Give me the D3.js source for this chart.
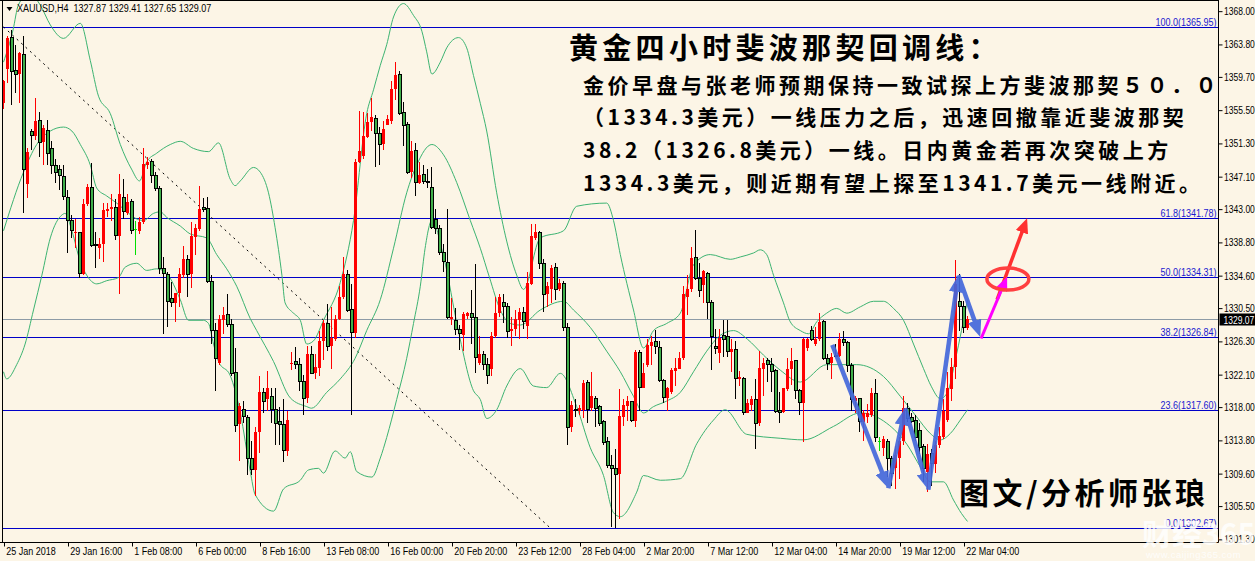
<!DOCTYPE html>
<html><head><meta charset="utf-8">
<script src="https://cdn.jsdelivr.net/npm/d3@7"></script>
<style>
html,body{margin:0;padding:0;background:#fcf5e6;}
svg{display:block;}
</style></head><body>
<svg id="c" width="1255" height="561"></svg>
<script>
// ---------- DATA ----------
const symbolText = "XAUUSD,H4";
const lastBar = [1327.87, 1329.41, 1327.65, 1329.07];
const open = [1356.3,1360.6,1364.6,1360.4,1360.0,1362.5,1346.1,1352.7,1352.2,1354.1,1351.4,1352.9,1350.6,1348.5,1348.0,1347.1,1344.4,1341.5,1339.9,1340.0,
1334.8,1343.6,1345.7,1338.5,1338.0,1338.5,1342.7,1343.0,1343.2,1339.6,1344.4,1342.5,1343.9,1340.35,1340.2,1341.3,1348.5,1348.9,1347.2,1345.6,
1335.5,1334.7,1331.7,1331.1,1332.3,1334.6,1336.6,1334.7,1339.4,1340.4,1343.2,1343.0,1333.8,1327.6,1323.5,1328.9,1329.6,1328.4,1322.3,1315.8,
1317.6,1316.6,1311.5,1310.0,1314.8,1319.8,1318.9,1319.3,1317.6,1316.1,1315.8,1312.4,1323.4,1323.7,1323.3,1321.2,1319.1,1324.6,1322.2,1322.9,
1326.3,1328.5,1325.6,1326.5,1329.0,1331.9,1334.7,1330.3,1327.3,1348.9,1349.6,1352.0,1354.0,1354.4,1352.5,1351.1,1353.6,1354.1,1358.1,1359.9,
1355.2,1353.6,1347.6,1350.3,1346.3,1347.3,1346.4,1345.7,1341.6,1340.5,1337.4,1336.2,1329.1,1328.9,1327.8,1327.0,1329.4,1329.8,1329.3,1323.5,
1324.6,1323.3,1322.7,1326.9,1329.8,1331.1,1330.7,1327.5,1327.8,1328.9,1329.9,1328.2,1333.5,1339.3,1340.0,1336.1,1332.2,1332.8,1335.6,1332.8,
1333.6,1328.0,1315.4,1317.6,1317.5,1317.6,1321.0,1317.8,1319.0,1318.0,1316.1,1313.6,1310.6,1310.2,1309.5,1316.7,1318.1,1318.6,1316.2,1324.8,
1320.4,1323.3,1325.6,1326.2,1325.5,1321.3,1319.1,1319.8,1322.5,1322.8,1324.1,1331.9,1332.8,1336.8,1334.2,1333.4,1334.8,1331.2,1325.6,1324.8,
1327.0,1326.9,1324.9,1325.2,1321.5,1321.5,1317.2,1318.2,1318.9,1315.9,1322.8,1323.8,1323.3,1322.5,1317.5,1317.3,1320.2,1322.7,1323.8,1320.0,
1318.5,1325.4,1327.6,1325.9,1326.5,1328.7,1324.1,1323.5,1324.5,1324.4,1326.5,1326.1,1323.2,1318.7,1319.0,1316.1,1316.7,1316.9,1319.7,1313.6,
1312.8,1313.6,1311.5,1310.3,1311.5,1313.6,1317.8,1316.6,1316.2,1315.0,1313.0,1309.8,1312.1,1310.8,1313.2,1314.1,1316.3,1320.2,1323.0,1331.3,
1330.7,1327.87];
const high = [1359.3,1364.8,1365.6,1363.7,1362.8,1364.8,1350.6,1353.0,1356.95,1355.2,1353.6,1354.2,1351.5,1349.3,1348.5,1348.5,1345.4,1342.2,1341.7,1340.0,
1344.2,1346.1,1348.8,1340.1,1339.3,1343.7,1343.7,1344.8,1344.2,1347.4,1346.8,1344.8,1344.2,1341.5,1341.9,1350.6,1349.5,1349.3,1347.6,1345.9,
1336.9,1335.0,1333.7,1332.4,1335.5,1338.3,1337.2,1341.3,1341.1,1345.9,1344.3,1344.5,1334.6,1328.5,1329.6,1330.6,1332.2,1329.1,1325.4,1318.5,
1318.7,1316.9,1313.6,1315.4,1321.9,1320.3,1322.5,1320.3,1320.4,1317.9,1318.9,1317.4,1324.9,1325.5,1324.1,1322.0,1325.6,1325.6,1324.6,1327.6,
1328.9,1330.9,1330.6,1329.6,1333.2,1336.9,1335.2,1333.5,1349.3,1355.3,1355.2,1355.1,1356.95,1354.8,1353.3,1354.1,1354.8,1359.1,1361.5,1360.4,
1356.5,1353.9,1351.5,1351.3,1348.9,1348.5,1348.0,1348.2,1342.9,1340.9,1338.5,1343.0,1331.7,1330.4,1328.3,1330.0,1330.0,1332.7,1336.0,1326.9,
1325.0,1324.1,1327.4,1331.9,1332.2,1332.2,1331.1,1329.3,1330.2,1330.5,1330.6,1335.0,1341.0,1341.0,1340.2,1336.7,1333.7,1335.9,1336.1,1334.1,
1333.9,1328.5,1318.7,1318.9,1318.2,1321.3,1321.3,1322.4,1319.3,1318.2,1316.3,1314.1,1311.9,1312.6,1320.2,1318.9,1319.3,1318.7,1325.2,1325.2,
1323.5,1326.5,1326.9,1327.7,1326.3,1321.5,1320.5,1322.9,1324.1,1324.9,1333.2,1334.6,1338.2,1340.3,1336.1,1335.2,1335.0,1331.5,1327.8,1327.8,
1328.9,1328.9,1326.5,1326.3,1322.5,1321.7,1318.9,1319.3,1321.5,1325.0,1324.1,1324.1,1324.1,1322.8,1319.8,1320.4,1324.1,1325.4,1323.9,1320.2,
1326.7,1326.7,1328.2,1328.0,1329.8,1328.9,1324.6,1324.8,1325.9,1327.3,1327.6,1326.3,1323.5,1319.3,1319.1,1317.6,1318.3,1320.4,1321.5,1314.1,
1314.3,1313.9,1311.7,1313.0,1314.1,1319.3,1318.5,1317.2,1316.9,1315.9,1313.3,1313.3,1312.6,1313.7,1315.4,1318.9,1322.4,1324.1,1336.5,1334.8,
1331.3,1329.41];
const low = [1355.6,1358.9,1356.1,1357.6,1356.3,1342.4,1344.3,1350.4,1351.7,1349.5,1348.5,1348.5,1347.4,1346.3,1345.4,1344.1,1337.4,1339.3,1338.0,1334.3,
1334.6,1343.3,1338.2,1335.5,1336.7,1336.3,1342.0,1341.5,1339.1,1332.2,1341.7,1342.2,1339.8,1337.2,1339.8,1341.1,1348.0,1346.3,1345.2,1334.8,
1327.2,1328.0,1330.6,1328.7,1330.6,1334.3,1331.9,1333.0,1337.2,1340.2,1342.6,1333.6,1325.9,1320.0,1323.2,1327.2,1328.1,1321.9,1314.8,1311.1,
1315.9,1309.4,1309.4,1306.7,1312.2,1317.2,1317.4,1315.9,1313.2,1313.2,1311.0,1311.7,1322.6,1322.8,1320.0,1316.9,1318.5,1322.1,1321.5,1321.9,
1323.9,1325.0,1322.8,1326.3,1328.9,1331.6,1330.0,1316.9,1326.7,1348.7,1349.3,1351.9,1352.8,1348.2,1348.5,1350.4,1353.5,1353.7,1356.7,1354.8,
1350.9,1347.4,1346.9,1344.6,1346.1,1346.1,1345.6,1340.4,1339.8,1337.2,1335.0,1329.1,1328.3,1327.0,1325.2,1325.0,1329.1,1325.9,1322.2,1323.2,
1322.6,1320.9,1321.9,1326.7,1329.3,1328.5,1326.7,1325.6,1326.9,1326.5,1327.8,1326.5,1333.3,1339.1,1335.4,1330.0,1330.6,1331.1,1331.5,1332.6,
1327.6,1313.2,1314.8,1316.7,1316.9,1316.5,1315.9,1317.4,1315.4,1315.6,1313.2,1310.2,1302.8,1302.7,1303.8,1315.5,1316.2,1316.1,1315.4,1317.4,
1320.4,1323.0,1323.2,1324.6,1321.1,1318.5,1317.4,1319.6,1320.6,1322.7,1323.9,1329.6,1332.5,1334.0,1331.9,1331.1,1329.1,1322.6,1324.6,1323.5,
1324.3,1324.3,1322.4,1318.9,1320.6,1316.9,1317.2,1317.4,1312.6,1315.6,1319.3,1321.1,1319.8,1317.2,1315.9,1317.2,1320.0,1320.7,1318.9,1316.9,
1313.5,1325.0,1326.3,1325.6,1326.3,1323.9,1322.6,1321.5,1324.3,1324.3,1325.6,1322.4,1317.4,1317.2,1314.8,1313.7,1315.9,1316.7,1313.5,1312.4,
1311.7,1309.1,1308.0,1307.6,1308.9,1313.2,1316.1,1315.9,1313.7,1312.0,1308.5,1307.2,1308.0,1309.6,1312.8,1313.9,1316.1,1318.7,1321.5,1327.6,
1327.3,1327.65];
const close = [1359.1,1364.6,1360.3,1360.0,1362.6,1348.0,1350.2,1352.2,1354.1,1351.4,1353.2,1349.9,1348.5,1347.6,1347.2,1344.5,1341.5,1340.2,1340.1,1334.8,
1343.6,1345.7,1338.4,1338.4,1338.5,1342.8,1343.0,1343.2,1339.6,1344.9,1342.6,1343.9,1340.3,1340.35,1341.3,1348.6,1348.9,1347.2,1345.6,1335.4,
1334.8,1331.3,1331.1,1332.3,1334.7,1336.6,1334.7,1339.5,1340.6,1343.0,1342.9,1333.8,1327.6,1324.1,1329.1,1329.6,1328.4,1322.2,1315.6,1318.1,
1316.7,1311.5,1310.0,1314.8,1319.8,1318.7,1320.4,1317.6,1315.9,1315.8,1312.4,1316.3,1323.5,1323.3,1321.2,1319.0,1324.6,1322.2,1323.0,1326.3,
1328.5,1325.6,1326.7,1329.1,1331.9,1334.7,1330.1,1327.4,1348.9,1350.3,1352.2,1354.0,1354.6,1352.5,1351.1,1353.0,1354.3,1358.1,1359.9,1355.0,
1353.5,1347.6,1350.3,1346.3,1347.2,1346.4,1346.3,1340.6,1340.5,1337.4,1336.3,1329.3,1329.3,1327.8,1327.2,1329.7,1329.8,1329.3,1324.2,1324.6,
1323.3,1321.9,1326.9,1329.8,1331.9,1330.6,1327.5,1327.8,1329.1,1329.9,1328.7,1333.6,1339.6,1340.0,1336.1,1332.2,1333.2,1335.5,1332.8,1333.6,
1328.0,1315.4,1318.2,1317.5,1317.8,1321.0,1317.6,1319.4,1317.7,1315.9,1313.5,1310.6,1310.2,1309.4,1316.8,1318.2,1318.7,1316.3,1324.9,1320.4,
1322.3,1325.8,1326.2,1325.6,1321.3,1319.1,1320.3,1322.6,1322.9,1324.1,1332.2,1332.9,1336.8,1334.2,1332.6,1335.1,1331.2,1326.8,1325.4,1326.7,
1326.5,1325.0,1325.3,1321.5,1321.7,1317.2,1318.4,1318.9,1315.9,1322.9,1323.5,1323.3,1322.4,1317.4,1317.2,1320.3,1322.8,1323.8,1320.0,1318.5,
1326.5,1326.5,1326.5,1326.5,1328.7,1324.1,1323.5,1324.3,1324.3,1326.5,1326.1,1323.2,1318.9,1319.1,1316.1,1317.2,1317.2,1319.7,1314.1,1313.6,
1313.9,1311.5,1309.6,1311.9,1313.7,1317.8,1316.5,1316.1,1314.1,1312.8,1310.2,1312.0,1310.8,1313.2,1314.3,1317.4,1320.4,1323.0,1333.5,1330.6,
1328.0,1329.07];

// Bollinger bands: [bar index, price]
const bbUpper = [[0,1361.5],[2.4,1365.6],[3.7,1368.7],[6.5,1370.2],[9.2,1368.7],[11.7,1366.2],[15,1364.5],[19.2,1366.4],[21.7,1361.7],[23.75,1357.2],[26.7,1355.0],[29.2,1351.1],[32,1348.0],[34,1346.5],[35.8,1348.9],[38.3,1350.0],[41.7,1351.1],[44.2,1351.5],[47.5,1350.6],[51.25,1350.2],[53.75,1351.3],[56.7,1346.7],[57.9,1345.9],[59.2,1346.5],[62.5,1348.2],[64.2,1347.6],[66.25,1345.0],[67.9,1340.6],[69.6,1334.6],[70.4,1331.1],[72.5,1329.8],[74.2,1328.9],[75.8,1325.9],[77.5,1326.3],[80,1328.9],[84.2,1333.7],[87.5,1341.5],[90.8,1355.0],[92.5,1358.0],[94.2,1361.1],[95.8,1363.7],[97.5,1367.2],[100,1368.9],[102.5,1367.4],[104.6,1365.4],[105.8,1362.8],[107.1,1360.0],[109.2,1361.5],[110.8,1363.3],[113.75,1364.6],[115.8,1363.3],[117.5,1359.8],[119.2,1356.3],[120.8,1352.8],[123.3,1345.0],[125.8,1338.9],[128.3,1334.6],[130,1332.8],[134.2,1339.3],[140,1340.2],[143.3,1343.3],[150.8,1343.7],[152.5,1341.5],[154.2,1337.2],[157.5,1330.2],[160,1325.4],[162.5,1327.6],[165.8,1328.5],[169.2,1329.8],[172.5,1335.9],[176.7,1337.2],[181.7,1336.6],[184.2,1336.9],[187.5,1337.4],[189.2,1337.8],[190.8,1337.2],[192.5,1334.6],[195,1331.1],[196.7,1328.7],[199.2,1327.6],[201.25,1327.2],[203.3,1328.7],[205.8,1329.8],[208.3,1330.4],[210.8,1329.8],[214.2,1330.6],[217.5,1331.3],[220,1331.3],[222.5,1330.4],[225,1328.9],[227.5,1325.9],[230,1322.8],[232,1320.5],[234.2,1319.0],[236,1319.8],[238,1324.0],[241,1331.5]];
const bbMiddle = [[0,1340.2],[5,1347.6],[8.3,1351.1],[11.7,1352.8],[15,1353.3],[17.1,1352.8],[19.2,1351.1],[21.7,1348.5],[23.3,1345.6],[25.8,1344.6],[28.3,1343.7],[30.4,1342.8],[33.3,1341.7],[35,1341.5],[37.5,1342.4],[39.2,1342.6],[40.8,1341.9],[44.2,1340.8],[46.7,1339.8],[50.8,1339.3],[53.3,1337.2],[55.8,1335.4],[58.3,1333.2],[61.7,1329.1],[63.3,1327.6],[67.5,1323.7],[71.7,1319.1],[75.8,1318.0],[77,1317.8],[80.8,1319.8],[84.2,1321.5],[87.9,1324.1],[90.8,1327.6],[94.2,1331.5],[97.5,1338.0],[100.8,1345.0],[103.3,1348.5],[107.1,1351.1],[110,1349.8],[113.3,1346.3],[116.7,1341.5],[119.2,1338.0],[121.5,1334.3],[124.2,1330.2],[126.7,1328.5],[129.2,1328.3],[134.2,1330.2],[140,1331.3],[142.5,1330.2],[146.7,1328.0],[150.8,1325.0],[154.2,1322.4],[157.5,1319.3],[160,1317.2],[162.5,1318.0],[165.8,1318.7],[169.2,1319.8],[172.5,1322.4],[175.8,1325.0],[179.2,1327.0],[182.5,1327.6],[186,1326.5],[190,1324.5],[194.2,1322.6],[199.2,1321.1],[205.8,1323.3],[213.3,1323.3],[220,1321.8],[224.2,1319.3],[228.3,1316.7],[231.7,1314.6],[234.2,1313.8],[236.7,1314.6],[239.2,1316.3],[241,1317.6]];
const bbLower = [[0,1322.4],[0.8,1321.5],[3.3,1323.3],[5.4,1325.9],[7.5,1330.2],[9.6,1334.6],[11.7,1339.3],[14.6,1342.2],[15.4,1342.4],[17.1,1340.2],[19.2,1336.3],[20.8,1334.6],[23.3,1333.5],[25.8,1333.9],[28.75,1334.3],[30.4,1335.6],[33.3,1336.1],[35.8,1335.2],[38.3,1335.4],[40.8,1334.8],[44.2,1331.5],[46.25,1328.9],[50,1328.9],[51.25,1328.5],[52.5,1325.9],[53.75,1323.7],[56.7,1321.9],[59.2,1317.2],[61.7,1309.8],[62.9,1306.9],[67.5,1304.8],[70,1307.6],[74.2,1308.7],[76.25,1310.0],[78.75,1310.2],[80,1309.6],[82.9,1312.4],[85.4,1311.5],[86.7,1312.3],[88.3,1309.8],[92.1,1309.1],[94.2,1311.5],[95.8,1314.1],[98.3,1318.9],[100.8,1324.1],[102.5,1328.5],[104.2,1333.2],[105.4,1338.0],[107.1,1341.5],[110,1337.0],[113.75,1327.5],[117.5,1320.0],[119.2,1318.9],[120.8,1316.5],[123.3,1317.6],[125.8,1320.6],[129.2,1322.8],[132.5,1320.6],[135.8,1320.4],[139.2,1322.2],[143.3,1318.0],[146.7,1312.8],[150,1309.3],[152.5,1304.6],[154.2,1304.1],[158.3,1307.2],[160,1309.3],[164.2,1308.7],[169.2,1308.9],[173.3,1313.3],[177.5,1316.3],[180.4,1317.6],[185.8,1314.5],[194.2,1314.0],[200,1313.8],[207.5,1315.5],[214.2,1317.2],[220.8,1315.9],[225.9,1313.2],[229.2,1310.4],[231.7,1308.5],[235,1308.5],[237.5,1306.2],[239.5,1304.5],[241,1303.5]];

const timeLabels = ["25 Jan 2018","29 Jan 16:00","1 Feb 08:00","6 Feb 00:00","8 Feb 16:00","13 Feb 08:00","16 Feb 00:00","20 Feb 20:00","23 Feb 12:00","28 Feb 04:00","2 Mar 20:00","7 Mar 12:00","12 Mar 04:00","14 Mar 20:00","19 Mar 12:00","22 Mar 04:00"];
const timeLabelBars = [0,16,32,48,64,80,96,112,128,144,160,176,192,208,224,240];
const priceTicks = [1368.00,1363.80,1359.70,1355.50,1351.30,1347.10,1343.00,1338.80,1334.60,1330.50,1326.30,1322.10,1318.00,1313.80,1309.60,1305.50,1301.30];
const fibRatios = ["0.0","23.6","38.2","50.0","61.8","100.0"];
const fibPrices = [1302.67,1317.60,1326.84,1334.31,1341.78,1365.95];
const fibTrend = [[0,1365.95],[136.7,1302.67]];
const bluePath = [[207.2,1325.8],[221.2,1307.7],[225.4,1317.8],[231.2,1307.5],[238.7,1334.6],[244.2,1326.8]];
const magentaArrow = [[244.4,1326.6],[250.9,1334.4]];
const redArrow = [[248.4,1331.5],[255.9,1341.8]];
const redEllipse = [251.1,1334.1];
const titleText = "黄金四小时斐波那契回调线：";
const bodyLines = ["金价早盘与张老师预期保持一致试探上方斐波那契５０．０",
  "（1334.3美元）一线压力之后，迅速回撤靠近斐波那契",
  "38.2（1326.8美元）一线。日内黄金若再次突破上方",
  "1334.3美元，则近期有望上探至1341.7美元一线附近。"];
const authorText = "图文/分析师张琅";

// ---------- DRAW ----------
const svg = d3.select("#c");
const W = 1255, H = 561;
const plotL = 2.5, plotR = 1218.5, plotT = 0.5, plotB = 542.5;
svg.append("rect").attr("width",W).attr("height",H).attr("fill","#fcf5e6");

const x = d3.scaleLinear().domain([0,241]).range([3.5,967.5]);
const y = d3.scaleLinear().domain([1302.67,1365.95]).range([528,26.9]);

const defs = svg.append("defs");
defs.append("clipPath").attr("id","plot").append("rect")
  .attr("x",plotL).attr("y",plotT+0.5).attr("width",plotR-plotL).attr("height",plotB-plotT-0.5);
function marker(id,color,w,h){
  defs.append("marker").attr("id",id).attr("markerUnits","userSpaceOnUse")
    .attr("viewBox",`0 0 ${w} ${h}`).attr("markerWidth",w).attr("markerHeight",h)
    .attr("refX",w).attr("refY",h/2).attr("orient","auto")
    .append("path").attr("d",`M0,0L${w},${h/2}L0,${h}Z`).attr("fill",color);
}
marker("mBlue","#4468dc",17,14);
marker("mMag","#ff00ff",14,12);
marker("mRed","#ff3030",15,13);

const g = svg.append("g").attr("clip-path","url(#plot)");

// fib lines
fibPrices.forEach((p,k)=>{
  g.append("line").attr("x1",plotL).attr("x2",plotR)
   .attr("y1",Math.round(y(p))+0.5).attr("y2",Math.round(y(p))+0.5)
   .attr("stroke","#0000c8").attr("stroke-width",1);
});
// current price line
g.append("line").attr("x1",plotL).attr("x2",plotR)
  .attr("y1",Math.round(y(lastBar[3]))+0.5).attr("y2",Math.round(y(lastBar[3]))+0.5)
  .attr("stroke","#8d9ba6").attr("stroke-width",1);
// fib trendline
g.append("line").attr("x1",x(fibTrend[0][0])).attr("y1",y(fibTrend[0][1]))
  .attr("x2",x(fibTrend[1][0])).attr("y2",y(fibTrend[1][1]))
  .attr("stroke","#000").attr("stroke-width",1).attr("stroke-dasharray","2,4");

// Bollinger bands
const bandLine = d3.line().x(d=>x(d[0])).y(d=>y(d[1])).curve(d3.curveMonotoneX);
[bbUpper,bbMiddle,bbLower].forEach(b=>{
  g.append("path").attr("d",bandLine(b)).attr("fill","none")
   .attr("stroke","#3cb371").attr("stroke-width",1);
});

// candles
const cg = g.append("g").attr("shape-rendering","crispEdges");
open.forEach((o,i)=>{
  const c = close[i], h = high[i], l = low[i];
  const cx = x(i);
  const doji = Math.abs(c-o) < 0.02;
  const up = c > o;
  const wickCol = doji ? "#00e000" : (up ? "#ff0000" : "#000");
  cg.append("line").attr("x1",cx).attr("x2",cx).attr("y1",y(h)).attr("y2",y(l))
    .attr("stroke",wickCol).attr("stroke-width",1);
  const top = y(Math.max(o,c)), bot = y(Math.min(o,c));
  if (doji) {
    cg.append("line").attr("x1",cx-1.5).attr("x2",cx+1.5).attr("y1",top).attr("y2",top)
      .attr("stroke",wickCol);
  } else if (up) {
    cg.append("rect").attr("x",cx-1.5).attr("width",3).attr("y",top).attr("height",Math.max(1,bot-top))
      .attr("fill","#ff0000");
  } else {
    cg.append("rect").attr("x",cx-1.5).attr("width",3).attr("y",top).attr("height",Math.max(1,bot-top))
      .attr("fill","#3fae49").attr("stroke","#000").attr("stroke-width",1);
  }
});

// annotation arrows
const ag = svg.append("g").attr("opacity",0.92);
for (let k=0;k<bluePath.length-1;k++){
  const p0=bluePath[k], p1=bluePath[k+1];
  const x0=x(p0[0]), y0=y(p0[1]), x1=x(p1[0]), y1=y(p1[1]);
  const L=Math.hypot(x1-x0,y1-y0);
  const ex=x1-(x1-x0)/L*12, ey=y1-(y1-y0)/L*12;
  ag.append("line").attr("x1",x0).attr("y1",y0).attr("x2",ex).attr("y2",ey)
    .attr("stroke","#4468dc").attr("stroke-width",4.5);
  ag.append("path").attr("d",`M${x0},${y0}L${x1},${y1}`).attr("stroke","none").attr("fill","none")
    .attr("marker-end","url(#mBlue)");
}
function simpleArrow(p0,p1,color,w,mk,sh){
  const x0=x(p0[0]), y0=y(p0[1]), x1=x(p1[0]), y1=y(p1[1]);
  const L=Math.hypot(x1-x0,y1-y0);
  const ex=x1-(x1-x0)/L*sh, ey=y1-(y1-y0)/L*sh;
  svg.append("line").attr("x1",x0).attr("y1",y0).attr("x2",ex).attr("y2",ey)
    .attr("stroke",color).attr("stroke-width",w);
  svg.append("path").attr("d",`M${x0},${y0}L${x1},${y1}`).attr("stroke","none").attr("fill","none")
    .attr("marker-end",`url(#${mk})`);
}
simpleArrow(redArrow[0],redArrow[1],"#ff3030",3.5,"mRed",10);
simpleArrow(magentaArrow[0],magentaArrow[1],"#ff00ff",3,"mMag",9);
svg.append("ellipse").attr("cx",x(redEllipse[0])).attr("cy",y(redEllipse[1]))
  .attr("rx",21).attr("ry",11).attr("fill","none").attr("stroke","#ff4040").attr("stroke-width",3.5);

// borders
svg.append("line").attr("x1",0).attr("x2",plotR).attr("y1",0.5).attr("y2",0.5).attr("stroke","#000");
svg.append("line").attr("x1",plotL).attr("x2",plotL).attr("y1",0).attr("y2",plotB).attr("stroke","#000");
svg.append("line").attr("x1",0).attr("x2",plotR).attr("y1",plotB).attr("y2",plotB).attr("stroke","#000");
svg.append("line").attr("x1",plotR).attr("x2",plotR).attr("y1",0).attr("y2",plotB).attr("stroke","#000");

const axFont = "'Liberation Sans',Arial,sans-serif";
const SX = 0.82;

// right axis
const yAxis = d3.axisRight(y).tickValues(priceTicks).tickFormat(d3.format(".2f")).tickSize(4).tickPadding(3);
const ya = svg.append("g").attr("transform",`translate(${plotR},0.5)`).call(yAxis);
ya.select(".domain").remove();
ya.selectAll("text").attr("font-family",axFont).attr("font-size",11).attr("fill","#000")
  .attr("x",7.2).attr("transform","scale(0.775,1)");
ya.selectAll("line").attr("stroke","#000");

// bottom axis
const xAxis = d3.axisBottom(x).tickValues(timeLabelBars).tickFormat((d,k)=>timeLabels[k]).tickSize(4).tickPadding(2);
const xa = svg.append("g").attr("transform",`translate(0.5,${plotB})`).call(xAxis);
xa.select(".domain").remove();
xa.selectAll("line").attr("stroke","#000");
xa.selectAll("text").attr("font-family",axFont).attr("font-size",11).attr("fill","#000")
  .attr("text-anchor","start").attr("x",2).attr("dy","0.6em").attr("transform",`scale(${SX},1)`);

// narrow text helper
function ntext(px,py,str,anchor,color,sx){
  const gg = svg.append("g").attr("transform",`translate(${px},${py})`);
  return gg.append("text").attr("transform",`scale(${sx||SX},1)`).attr("text-anchor",anchor)
    .attr("font-family",axFont).attr("font-size",11).attr("fill",color).text(str);
}

// fib labels
fibPrices.forEach((p,k)=>{
  ntext(plotR-2, Math.round(y(p))-1.5, `${fibRatios[k]}(${p.toFixed(2)})`, "end", "#1a1ad0");
});

// current price box
const cpY = Math.round(y(lastBar[3]))+0.5;
svg.append("rect").attr("x",plotR+1).attr("y",cpY-6).attr("width",40).attr("height",12).attr("fill","#000");
ntext(plotR+5, cpY+4, lastBar[3].toFixed(2), "start", "#fff", 0.775);

// header
svg.append("path").attr("d","M6.5,7L12.5,7L9.5,11Z").attr("fill","#000");
ntext(17, 12, `${symbolText}  ${lastBar.map(v=>v.toFixed(2)).join(" ")}`, "start", "#000")
  .attr("xml:space","preserve");

// Chinese annotation text
const cjk = "'Noto Sans CJK SC','Noto Sans CJK JP',sans-serif";
svg.append("text").attr("x",569).attr("y",46).attr("dominant-baseline","central")
  .attr("font-family",cjk).attr("font-weight",700).attr("font-size",29).attr("letter-spacing",4.3)
  .attr("fill","#000").text(titleText);
const lineYs = [84,116,149,182];
bodyLines.forEach((t,k)=>{
  svg.append("text").attr("x",583).attr("y",lineYs[k]).attr("dominant-baseline","central")
    .attr("font-family",cjk).attr("font-weight",700).attr("font-size",21).attr("letter-spacing",3.5)
    .attr("fill","#000").text(t);
});
svg.append("text").attr("x",959).attr("y",491).attr("dominant-baseline","central")
  .attr("font-family",cjk).attr("font-weight",700).attr("font-size",30).attr("letter-spacing",3.5)
  .attr("fill","#000").text(authorText);

// watermark
svg.append("text").attr("x",1142).attr("y",545).attr("font-family",cjk).attr("font-weight",700)
  .attr("font-size",30).attr("fill","#fff").attr("opacity",0.8).text("财经365");
svg.append("text").attr("x",1146).attr("y",558).attr("font-family","'Liberation Sans',sans-serif")
  .attr("font-size",9.5).attr("letter-spacing",0.5).attr("fill","#fff").attr("opacity",0.85).text("www.caijing365.com");
</script>
</body></html>
